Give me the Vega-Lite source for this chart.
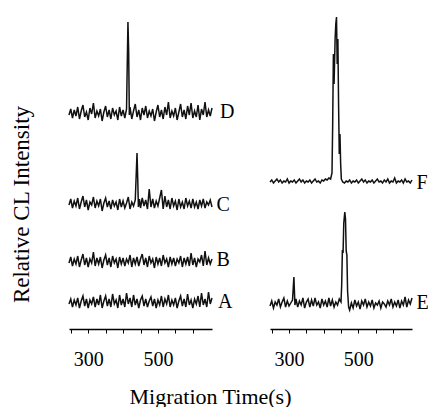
{
  "$schema": "https://vega.github.io/schema/vega-lite/v6.json",
  "padding": {"left": 10, "top": 12, "right": 0, "bottom": 0},
  "background": "white",
  "config": {
    "view": {"stroke": null},
    "axis": {"grid": false}
  },
  "datasets": {
    "left": [
      {"s":"D","t":245,"v":214},{"s":"D","t":250,"v":220},{"s":"D","t":255,"v":211},{"s":"D","t":260,"v":219},{"s":"D","t":265,"v":213},{"s":"D","t":270,"v":222},{"s":"D","t":275,"v":210},{"s":"D","t":280,"v":218},{"s":"D","t":285,"v":224},{"s":"D","t":290,"v":212},{"s":"D","t":295,"v":217},{"s":"D","t":300,"v":209},{"s":"D","t":305,"v":221},{"s":"D","t":310,"v":215},{"s":"D","t":315,"v":226},{"s":"D","t":320,"v":211},{"s":"D","t":325,"v":218},{"s":"D","t":330,"v":213},{"s":"D","t":335,"v":220},{"s":"D","t":340,"v":208},{"s":"D","t":345,"v":217},{"s":"D","t":350,"v":223},{"s":"D","t":355,"v":212},{"s":"D","t":360,"v":219},{"s":"D","t":365,"v":210},{"s":"D","t":370,"v":221},{"s":"D","t":375,"v":214},{"s":"D","t":380,"v":218},{"s":"D","t":385,"v":209},{"s":"D","t":390,"v":222},{"s":"D","t":395,"v":213},{"s":"D","t":400,"v":219},{"s":"D","t":405,"v":211},{"s":"D","t":410,"v":220},{"s":"D","t":414,"v":307},{"s":"D","t":416,"v":279},{"s":"D","t":418,"v":214},{"s":"D","t":420,"v":222},{"s":"D","t":425,"v":210},{"s":"D","t":430,"v":218},{"s":"D","t":435,"v":225},{"s":"D","t":440,"v":212},{"s":"D","t":445,"v":219},{"s":"D","t":450,"v":209},{"s":"D","t":455,"v":221},{"s":"D","t":460,"v":214},{"s":"D","t":465,"v":223},{"s":"D","t":470,"v":211},{"s":"D","t":475,"v":218},{"s":"D","t":480,"v":213},{"s":"D","t":485,"v":220},{"s":"D","t":490,"v":208},{"s":"D","t":495,"v":217},{"s":"D","t":500,"v":224},{"s":"D","t":505,"v":212},{"s":"D","t":510,"v":219},{"s":"D","t":515,"v":210},{"s":"D","t":520,"v":222},{"s":"D","t":525,"v":214},{"s":"D","t":530,"v":227},{"s":"D","t":535,"v":211},{"s":"D","t":540,"v":218},{"s":"D","t":545,"v":213},{"s":"D","t":550,"v":221},{"s":"D","t":555,"v":209},{"s":"D","t":560,"v":217},{"s":"D","t":565,"v":225},{"s":"D","t":570,"v":212},{"s":"D","t":575,"v":219},{"s":"D","t":580,"v":210},{"s":"D","t":585,"v":223},{"s":"D","t":590,"v":214},{"s":"D","t":595,"v":226},{"s":"D","t":600,"v":211},{"s":"D","t":605,"v":218},{"s":"D","t":610,"v":212},{"s":"D","t":615,"v":224},{"s":"D","t":620,"v":209},{"s":"D","t":625,"v":220},{"s":"D","t":630,"v":214},{"s":"D","t":635,"v":227},{"s":"D","t":640,"v":212},{"s":"D","t":645,"v":219},{"s":"D","t":650,"v":213},{"s":"D","t":655,"v":221},
      {"s":"C","t":245,"v":124},{"s":"C","t":250,"v":130},{"s":"C","t":255,"v":121},{"s":"C","t":260,"v":128},{"s":"C","t":265,"v":123},{"s":"C","t":270,"v":131},{"s":"C","t":275,"v":120},{"s":"C","t":280,"v":127},{"s":"C","t":285,"v":133},{"s":"C","t":290,"v":122},{"s":"C","t":295,"v":129},{"s":"C","t":300,"v":119},{"s":"C","t":305,"v":127},{"s":"C","t":310,"v":124},{"s":"C","t":315,"v":132},{"s":"C","t":320,"v":121},{"s":"C","t":325,"v":128},{"s":"C","t":330,"v":123},{"s":"C","t":335,"v":130},{"s":"C","t":340,"v":118},{"s":"C","t":345,"v":126},{"s":"C","t":350,"v":131},{"s":"C","t":355,"v":122},{"s":"C","t":360,"v":128},{"s":"C","t":365,"v":120},{"s":"C","t":370,"v":129},{"s":"C","t":375,"v":123},{"s":"C","t":380,"v":127},{"s":"C","t":385,"v":119},{"s":"C","t":390,"v":130},{"s":"C","t":395,"v":122},{"s":"C","t":400,"v":128},{"s":"C","t":405,"v":121},{"s":"C","t":410,"v":126},{"s":"C","t":415,"v":132},{"s":"C","t":420,"v":120},{"s":"C","t":425,"v":127},{"s":"C","t":430,"v":123},{"s":"C","t":435,"v":129},{"s":"C","t":440,"v":176},{"s":"C","t":442,"v":151},{"s":"C","t":444,"v":122},{"s":"C","t":447,"v":130},{"s":"C","t":450,"v":121},{"s":"C","t":455,"v":131},{"s":"C","t":460,"v":123},{"s":"C","t":465,"v":129},{"s":"C","t":470,"v":120},{"s":"C","t":475,"v":140},{"s":"C","t":480,"v":122},{"s":"C","t":485,"v":130},{"s":"C","t":490,"v":121},{"s":"C","t":495,"v":128},{"s":"C","t":500,"v":123},{"s":"C","t":505,"v":131},{"s":"C","t":510,"v":139},{"s":"C","t":515,"v":120},{"s":"C","t":520,"v":133},{"s":"C","t":525,"v":122},{"s":"C","t":530,"v":129},{"s":"C","t":535,"v":120},{"s":"C","t":540,"v":131},{"s":"C","t":545,"v":123},{"s":"C","t":550,"v":128},{"s":"C","t":555,"v":119},{"s":"C","t":560,"v":130},{"s":"C","t":565,"v":122},{"s":"C","t":570,"v":127},{"s":"C","t":575,"v":120},{"s":"C","t":580,"v":131},{"s":"C","t":585,"v":123},{"s":"C","t":590,"v":128},{"s":"C","t":595,"v":121},{"s":"C","t":600,"v":130},{"s":"C","t":605,"v":122},{"s":"C","t":610,"v":127},{"s":"C","t":615,"v":120},{"s":"C","t":620,"v":129},{"s":"C","t":625,"v":123},{"s":"C","t":630,"v":130},{"s":"C","t":635,"v":121},{"s":"C","t":640,"v":127},{"s":"C","t":645,"v":124},{"s":"C","t":650,"v":129},{"s":"C","t":655,"v":122},
      {"s":"B","t":245,"v":66},{"s":"B","t":250,"v":72},{"s":"B","t":255,"v":63},{"s":"B","t":260,"v":70},{"s":"B","t":265,"v":65},{"s":"B","t":270,"v":73},{"s":"B","t":275,"v":62},{"s":"B","t":280,"v":69},{"s":"B","t":285,"v":75},{"s":"B","t":290,"v":64},{"s":"B","t":295,"v":71},{"s":"B","t":300,"v":62},{"s":"B","t":305,"v":70},{"s":"B","t":310,"v":66},{"s":"B","t":315,"v":77},{"s":"B","t":320,"v":63},{"s":"B","t":325,"v":71},{"s":"B","t":330,"v":65},{"s":"B","t":335,"v":72},{"s":"B","t":340,"v":61},{"s":"B","t":345,"v":69},{"s":"B","t":350,"v":74},{"s":"B","t":355,"v":64},{"s":"B","t":360,"v":71},{"s":"B","t":365,"v":62},{"s":"B","t":370,"v":73},{"s":"B","t":375,"v":66},{"s":"B","t":380,"v":70},{"s":"B","t":385,"v":61},{"s":"B","t":390,"v":72},{"s":"B","t":395,"v":65},{"s":"B","t":400,"v":71},{"s":"B","t":405,"v":63},{"s":"B","t":410,"v":70},{"s":"B","t":415,"v":66},{"s":"B","t":420,"v":74},{"s":"B","t":425,"v":62},{"s":"B","t":430,"v":71},{"s":"B","t":435,"v":65},{"s":"B","t":440,"v":72},{"s":"B","t":445,"v":63},{"s":"B","t":450,"v":70},{"s":"B","t":455,"v":75},{"s":"B","t":460,"v":64},{"s":"B","t":465,"v":71},{"s":"B","t":470,"v":62},{"s":"B","t":475,"v":73},{"s":"B","t":480,"v":66},{"s":"B","t":485,"v":70},{"s":"B","t":490,"v":61},{"s":"B","t":495,"v":72},{"s":"B","t":500,"v":65},{"s":"B","t":505,"v":71},{"s":"B","t":510,"v":63},{"s":"B","t":515,"v":74},{"s":"B","t":520,"v":66},{"s":"B","t":525,"v":70},{"s":"B","t":530,"v":62},{"s":"B","t":535,"v":72},{"s":"B","t":540,"v":65},{"s":"B","t":545,"v":71},{"s":"B","t":550,"v":63},{"s":"B","t":555,"v":70},{"s":"B","t":560,"v":66},{"s":"B","t":565,"v":73},{"s":"B","t":570,"v":62},{"s":"B","t":575,"v":71},{"s":"B","t":580,"v":65},{"s":"B","t":585,"v":72},{"s":"B","t":590,"v":63},{"s":"B","t":595,"v":76},{"s":"B","t":600,"v":64},{"s":"B","t":605,"v":71},{"s":"B","t":610,"v":62},{"s":"B","t":615,"v":70},{"s":"B","t":620,"v":67},{"s":"B","t":625,"v":74},{"s":"B","t":630,"v":63},{"s":"B","t":635,"v":78},{"s":"B","t":640,"v":64},{"s":"B","t":645,"v":71},{"s":"B","t":650,"v":65},{"s":"B","t":655,"v":70},
      {"s":"A","t":245,"v":25},{"s":"A","t":250,"v":30},{"s":"A","t":255,"v":22},{"s":"A","t":260,"v":29},{"s":"A","t":265,"v":24},{"s":"A","t":270,"v":31},{"s":"A","t":275,"v":21},{"s":"A","t":280,"v":28},{"s":"A","t":285,"v":33},{"s":"A","t":290,"v":23},{"s":"A","t":295,"v":30},{"s":"A","t":300,"v":21},{"s":"A","t":305,"v":29},{"s":"A","t":310,"v":25},{"s":"A","t":315,"v":32},{"s":"A","t":320,"v":22},{"s":"A","t":325,"v":30},{"s":"A","t":330,"v":24},{"s":"A","t":335,"v":34},{"s":"A","t":340,"v":21},{"s":"A","t":345,"v":28},{"s":"A","t":350,"v":33},{"s":"A","t":355,"v":23},{"s":"A","t":360,"v":30},{"s":"A","t":365,"v":22},{"s":"A","t":370,"v":35},{"s":"A","t":375,"v":25},{"s":"A","t":380,"v":29},{"s":"A","t":385,"v":21},{"s":"A","t":390,"v":34},{"s":"A","t":395,"v":24},{"s":"A","t":400,"v":30},{"s":"A","t":405,"v":22},{"s":"A","t":410,"v":36},{"s":"A","t":415,"v":25},{"s":"A","t":420,"v":31},{"s":"A","t":425,"v":22},{"s":"A","t":430,"v":34},{"s":"A","t":435,"v":24},{"s":"A","t":440,"v":30},{"s":"A","t":445,"v":21},{"s":"A","t":450,"v":29},{"s":"A","t":455,"v":33},{"s":"A","t":460,"v":23},{"s":"A","t":465,"v":30},{"s":"A","t":470,"v":22},{"s":"A","t":475,"v":28},{"s":"A","t":480,"v":32},{"s":"A","t":485,"v":23},{"s":"A","t":490,"v":30},{"s":"A","t":495,"v":21},{"s":"A","t":500,"v":29},{"s":"A","t":505,"v":24},{"s":"A","t":510,"v":33},{"s":"A","t":515,"v":22},{"s":"A","t":520,"v":30},{"s":"A","t":525,"v":25},{"s":"A","t":530,"v":34},{"s":"A","t":535,"v":22},{"s":"A","t":540,"v":29},{"s":"A","t":545,"v":24},{"s":"A","t":550,"v":31},{"s":"A","t":555,"v":21},{"s":"A","t":560,"v":28},{"s":"A","t":565,"v":33},{"s":"A","t":570,"v":23},{"s":"A","t":575,"v":30},{"s":"A","t":580,"v":22},{"s":"A","t":585,"v":35},{"s":"A","t":590,"v":24},{"s":"A","t":595,"v":29},{"s":"A","t":600,"v":21},{"s":"A","t":605,"v":30},{"s":"A","t":610,"v":25},{"s":"A","t":615,"v":33},{"s":"A","t":620,"v":22},{"s":"A","t":625,"v":36},{"s":"A","t":630,"v":24},{"s":"A","t":635,"v":30},{"s":"A","t":640,"v":22},{"s":"A","t":645,"v":37},{"s":"A","t":650,"v":25},{"s":"A","t":655,"v":31}
    ],
    "right": [
      {"s":"F","t":245,"v":147},{"s":"F","t":250,"v":149},{"s":"F","t":255,"v":146},{"s":"F","t":260,"v":148},{"s":"F","t":265,"v":150},{"s":"F","t":270,"v":147},{"s":"F","t":275,"v":149},{"s":"F","t":280,"v":146},{"s":"F","t":285,"v":148},{"s":"F","t":290,"v":147},{"s":"F","t":295,"v":150},{"s":"F","t":300,"v":146},{"s":"F","t":305,"v":148},{"s":"F","t":310,"v":147},{"s":"F","t":315,"v":149},{"s":"F","t":320,"v":146},{"s":"F","t":325,"v":148},{"s":"F","t":330,"v":150},{"s":"F","t":335,"v":147},{"s":"F","t":340,"v":149},{"s":"F","t":345,"v":146},{"s":"F","t":350,"v":148},{"s":"F","t":355,"v":147},{"s":"F","t":360,"v":149},{"s":"F","t":365,"v":146},{"s":"F","t":370,"v":148},{"s":"F","t":375,"v":150},{"s":"F","t":380,"v":147},{"s":"F","t":385,"v":148},{"s":"F","t":390,"v":146},{"s":"F","t":395,"v":149},{"s":"F","t":400,"v":148},{"s":"F","t":405,"v":150},{"s":"F","t":410,"v":149},{"s":"F","t":415,"v":151},{"s":"F","t":420,"v":150},{"s":"F","t":424,"v":156},{"s":"F","t":426,"v":205},{"s":"F","t":428,"v":275},{"s":"F","t":430,"v":245},{"s":"F","t":433,"v":290},{"s":"F","t":435,"v":305},{"s":"F","t":437,"v":312},{"s":"F","t":439,"v":265},{"s":"F","t":441,"v":290},{"s":"F","t":443,"v":225},{"s":"F","t":445,"v":175},{"s":"F","t":447,"v":195},{"s":"F","t":449,"v":165},{"s":"F","t":451,"v":150},{"s":"F","t":455,"v":147},{"s":"F","t":460,"v":146},{"s":"F","t":465,"v":148},{"s":"F","t":470,"v":147},{"s":"F","t":475,"v":149},{"s":"F","t":480,"v":146},{"s":"F","t":485,"v":148},{"s":"F","t":490,"v":147},{"s":"F","t":495,"v":149},{"s":"F","t":500,"v":146},{"s":"F","t":505,"v":148},{"s":"F","t":510,"v":150},{"s":"F","t":515,"v":147},{"s":"F","t":520,"v":149},{"s":"F","t":525,"v":146},{"s":"F","t":530,"v":148},{"s":"F","t":535,"v":147},{"s":"F","t":540,"v":149},{"s":"F","t":545,"v":146},{"s":"F","t":550,"v":148},{"s":"F","t":555,"v":150},{"s":"F","t":560,"v":147},{"s":"F","t":565,"v":148},{"s":"F","t":570,"v":146},{"s":"F","t":575,"v":149},{"s":"F","t":580,"v":147},{"s":"F","t":585,"v":150},{"s":"F","t":590,"v":146},{"s":"F","t":595,"v":148},{"s":"F","t":600,"v":147},{"s":"F","t":605,"v":151},{"s":"F","t":610,"v":146},{"s":"F","t":615,"v":148},{"s":"F","t":620,"v":147},{"s":"F","t":625,"v":149},{"s":"F","t":630,"v":146},{"s":"F","t":635,"v":150},{"s":"F","t":640,"v":147},{"s":"F","t":645,"v":148},{"s":"F","t":650,"v":146},{"s":"F","t":655,"v":149},
      {"s":"E","t":245,"v":23},{"s":"E","t":250,"v":28},{"s":"E","t":255,"v":21},{"s":"E","t":260,"v":27},{"s":"E","t":265,"v":24},{"s":"E","t":270,"v":30},{"s":"E","t":275,"v":22},{"s":"E","t":280,"v":27},{"s":"E","t":285,"v":31},{"s":"E","t":290,"v":22},{"s":"E","t":295,"v":28},{"s":"E","t":300,"v":23},{"s":"E","t":305,"v":26},{"s":"E","t":310,"v":29},{"s":"E","t":314,"v":52},{"s":"E","t":317,"v":24},{"s":"E","t":320,"v":30},{"s":"E","t":325,"v":22},{"s":"E","t":330,"v":28},{"s":"E","t":335,"v":24},{"s":"E","t":340,"v":31},{"s":"E","t":345,"v":21},{"s":"E","t":350,"v":27},{"s":"E","t":355,"v":30},{"s":"E","t":360,"v":22},{"s":"E","t":365,"v":29},{"s":"E","t":370,"v":23},{"s":"E","t":375,"v":31},{"s":"E","t":380,"v":24},{"s":"E","t":385,"v":27},{"s":"E","t":390,"v":21},{"s":"E","t":395,"v":30},{"s":"E","t":400,"v":24},{"s":"E","t":405,"v":28},{"s":"E","t":410,"v":22},{"s":"E","t":415,"v":31},{"s":"E","t":420,"v":23},{"s":"E","t":425,"v":29},{"s":"E","t":430,"v":22},{"s":"E","t":435,"v":27},{"s":"E","t":440,"v":24},{"s":"E","t":445,"v":30},{"s":"E","t":450,"v":27},{"s":"E","t":452,"v":44},{"s":"E","t":454,"v":79},{"s":"E","t":456,"v":76},{"s":"E","t":458,"v":106},{"s":"E","t":461,"v":117},{"s":"E","t":463,"v":110},{"s":"E","t":465,"v":78},{"s":"E","t":467,"v":74},{"s":"E","t":469,"v":38},{"s":"E","t":472,"v":22},{"s":"E","t":475,"v":19},{"s":"E","t":480,"v":26},{"s":"E","t":485,"v":21},{"s":"E","t":490,"v":29},{"s":"E","t":495,"v":23},{"s":"E","t":500,"v":27},{"s":"E","t":505,"v":20},{"s":"E","t":510,"v":28},{"s":"E","t":515,"v":24},{"s":"E","t":520,"v":30},{"s":"E","t":525,"v":22},{"s":"E","t":530,"v":27},{"s":"E","t":535,"v":23},{"s":"E","t":540,"v":29},{"s":"E","t":545,"v":21},{"s":"E","t":550,"v":26},{"s":"E","t":555,"v":24},{"s":"E","t":560,"v":28},{"s":"E","t":565,"v":21},{"s":"E","t":570,"v":27},{"s":"E","t":575,"v":25},{"s":"E","t":580,"v":22},{"s":"E","t":585,"v":28},{"s":"E","t":590,"v":24},{"s":"E","t":595,"v":30},{"s":"E","t":600,"v":22},{"s":"E","t":605,"v":27},{"s":"E","t":610,"v":23},{"s":"E","t":615,"v":29},{"s":"E","t":620,"v":21},{"s":"E","t":625,"v":28},{"s":"E","t":630,"v":24},{"s":"E","t":635,"v":32},{"s":"E","t":640,"v":22},{"s":"E","t":645,"v":29},{"s":"E","t":650,"v":25},{"s":"E","t":655,"v":31}
    ],
    "leftLabels": [
      {"lbl":"D","t":678,"v":217},{"lbl":"C","t":668,"v":124},{"lbl":"B","t":668,"v":69},{"lbl":"A","t":672,"v":27}
    ],
    "rightLabels": [
      {"lbl":"F","t":668,"v":146},{"lbl":"E","t":668,"v":26}
    ]
  },
  "bounds": "flush",
  "spacing": 58,
  "hconcat": [
    {
      "width": 143,
      "height": 317,
      "resolve": {"axis": {"x": "independent"}},
      "layer": [
        {
          "data": {"name": "left"},
          "mark": {"type": "line", "color": "#111", "strokeWidth": 1.5},
          "encoding": {
            "x": {"field": "t", "type": "quantitative", "scale": {"domain": [245, 655], "nice": false, "zero": false},
              "axis": {"orient": "bottom", "values": [250,300,350,400,450,500,550,600], "labels": false,
                "tickSize": 4, "tickColor": "#000", "domainColor": "#000", "domainWidth": 1.5, "title": null}},
            "y": {"field": "v", "type": "quantitative", "scale": {"domain": [0, 317], "nice": false, "zero": false},
              "axis": {"title": "Relative CL Intensity", "domain": false, "ticks": false, "labels": false, "titleFont": "Liberation Serif", "titleFontSize": 23, "titleFontWeight": "normal", "titleColor": "#000", "titleX": -48, "titleY": 192, "titleAngle": -90, "titleBaseline": "middle", "titleAlign": "center"}},
            "detail": {"field": "s"}
          }
        },
        {
          "data": {"name": "leftLabels"},
          "mark": {"type": "text", "align": "left", "baseline": "middle", "font": "Liberation Serif", "fontSize": 20, "color": "#000"},
          "encoding": {
            "x": {"field": "t", "type": "quantitative",
              "axis": {"orient": "bottom", "values": [300, 500], "ticks": false, "domain": false, "labelFont": "Liberation Serif", "labelFontSize": 20, "labelColor": "#000", "labelPadding": 20, "labelFlush": false, "labelOverlap": false,
                "title": "Migration Time(s)", "titleFont": "Liberation Serif", "titleFontSize": 22, "titleFontWeight": "normal", "titleColor": "#000", "titleX": 141, "titleY": 74, "titleBaseline": "alphabetic", "titleAlign": "center"}},
            "y": {"field": "v", "type": "quantitative"},
            "text": {"field": "lbl"}
          }
        }
      ]
    },
    {
      "width": 142,
      "height": 317,
      "resolve": {"axis": {"x": "independent"}},
      "layer": [
        {
          "data": {"name": "right"},
          "mark": {"type": "line", "color": "#111", "strokeWidth": 1.5},
          "encoding": {
            "x": {"field": "t", "type": "quantitative", "scale": {"domain": [245, 655], "nice": false, "zero": false},
              "axis": {"orient": "bottom", "values": [250,300,350,400,450,500,550,600], "labels": false,
                "tickSize": 4, "tickColor": "#000", "domainColor": "#000", "domainWidth": 1.5, "title": null}},
            "y": {"field": "v", "type": "quantitative", "scale": {"domain": [0, 317], "nice": false, "zero": false}, "axis": null},
            "detail": {"field": "s"}
          }
        },
        {
          "data": {"name": "rightLabels"},
          "mark": {"type": "text", "align": "left", "baseline": "middle", "font": "Liberation Serif", "fontSize": 20, "color": "#000"},
          "encoding": {
            "x": {"field": "t", "type": "quantitative",
              "axis": {"orient": "bottom", "values": [300, 500], "ticks": false, "domain": false, "labelFont": "Liberation Serif", "labelFontSize": 20, "labelColor": "#000", "labelPadding": 20, "labelFlush": false, "labelOverlap": false, "title": null}},
            "y": {"field": "v", "type": "quantitative"},
            "text": {"field": "lbl"}
          }
        }
      ]
    }
  ]
}
